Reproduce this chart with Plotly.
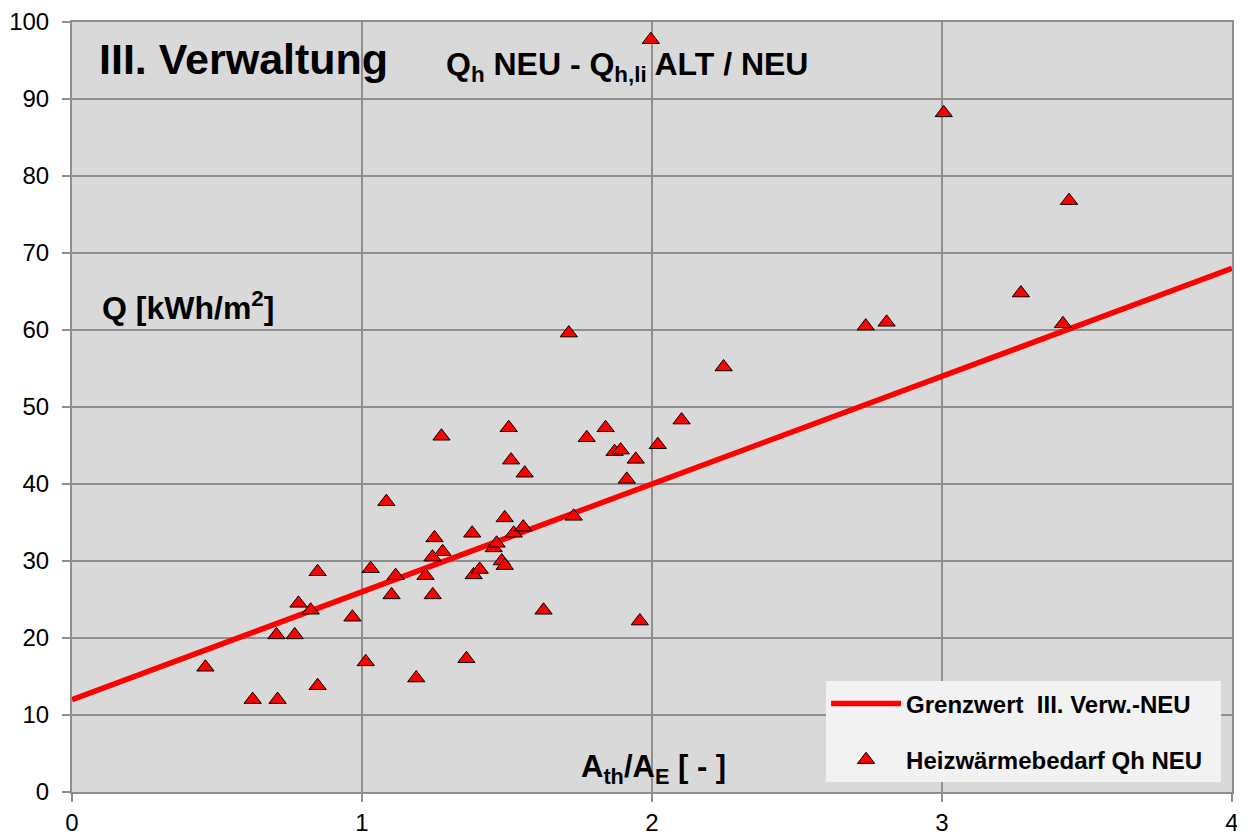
import plotly.graph_objects as go

# Measured data: A_th/A_E ratio vs heating demand Qh NEU
x_vals = [0.460, 0.623, 0.709, 0.705, 0.768, 0.781, 0.823, 0.847, 0.847, 0.967,
          1.013, 1.030, 1.084, 1.102, 1.116, 1.187, 1.219, 1.250, 1.243, 1.244,
          1.274, 1.278, 1.360, 1.380, 1.385, 1.406, 1.454, 1.464, 1.482, 1.492,
          1.492, 1.506, 1.514, 1.523, 1.556, 1.561, 1.626, 1.713, 1.730, 1.775,
          1.840, 1.871, 1.892, 1.913, 1.944, 1.958, 1.996, 2.020, 2.102, 2.247,
          2.737, 2.809, 3.006, 3.272, 3.417, 3.438]
y_vals = [16.2, 12.0, 12.0, 20.4, 20.4, 24.5, 23.6, 28.6, 13.8, 22.7,
          16.9, 29.0, 37.7, 25.6, 28.1, 14.8, 28.1, 33.0, 30.5, 25.6,
          46.2, 31.2, 17.3, 33.6, 28.2, 28.9, 31.7, 32.3, 30.0, 29.4,
          35.6, 47.3, 43.1, 33.6, 34.4, 41.4, 23.6, 59.6, 35.8, 46.0,
          47.3, 44.2, 44.4, 40.6, 43.2, 22.2, 97.7, 45.1, 48.3, 55.2,
          60.5, 61.0, 88.2, 64.8, 60.8, 76.8]

# Limit line Grenzwert III. Verw.-NEU
limit_x = [0, 4]
limit_y = [12, 68]

x_ticks = [0, 1, 2, 3, 4]
y_ticks = [0, 10, 20, 30, 40, 50, 60, 70, 80, 90, 100]

FONT = "Liberation Sans, Arial, sans-serif"
GRID = "#8f8f8f"

fig = go.Figure()
fig.add_trace(go.Scatter(
    x=limit_x, y=limit_y, mode="lines",
    line=dict(color="#ff0000", width=5.5),
    name="<b>Grenzwert  III. Verw.-NEU</b>&nbsp;&nbsp;",
    legendgroup="a",
))
fig.add_trace(go.Scatter(
    x=x_vals, y=y_vals, mode="markers",
    marker=dict(symbol="triangle-up", size=15, color="#ff0000",
                line=dict(color="#000000", width=1)),
    name="<b>Heizwärmebedarf Qh NEU</b>&nbsp;&nbsp;",
    legendgroup="b",
))

annotations = [
    dict(text="<b>III. Verwaltung</b>", x=0.085, y=95.2, xanchor="left", yanchor="middle",
         font=dict(size=43, color="black", family=FONT)),
    dict(text="<b>Q<sub>h</sub> NEU - Q<sub>h,li</sub> ALT / NEU</b>", x=1.283, y=94.2,
         xanchor="left", yanchor="middle", font=dict(size=32, color="black", family=FONT)),
    dict(text="<b>Q [kWh/m<sup>2</sup>]</b>", x=0.095, y=63.1, xanchor="left", yanchor="middle",
         font=dict(size=32, color="black", family=FONT)),
    dict(text="<b>A<sub>th</sub>/A<sub>E</sub> [ - ]</b>", x=1.747, y=3.0, xanchor="left",
         yanchor="middle", font=dict(size=31, color="black", family=FONT)),
]
for a in annotations:
    a.update(xref="x", yref="y", showarrow=False)

# The page body has an 8px default margin; the figure is sized so that its
# plot area lands at the reference position inside the 1245x837 window.
fig.update_layout(
    width=1237, height=829,
    margin=dict(l=64, r=13, t=14, b=45),
    paper_bgcolor="white",
    plot_bgcolor="#d9d9d9",
    font=dict(family=FONT, size=24, color="black"),
    annotations=annotations,
    showlegend=True,
    legend=dict(
        x=0.9906, y=0.0125, xanchor="right", yanchor="bottom",
        bgcolor="#f2f2f2", borderwidth=0,
        font=dict(size=24, color="black", family=FONT),
        traceorder="grouped", tracegroupgap=22,
        itemwidth=70,
    ),
)
fig.update_xaxes(
    range=[0, 4], tickvals=x_ticks, showgrid=True, gridcolor=GRID, gridwidth=2,
    zeroline=False, showline=True, linecolor=GRID, linewidth=2, mirror=True,
    ticks="outside", ticklen=8, tickcolor=GRID, tickwidth=2, automargin=False,
    tickfont=dict(size=24, color="black", family=FONT),
)
fig.update_yaxes(
    range=[0, 100], tickvals=y_ticks, showgrid=True, gridcolor=GRID, gridwidth=2,
    zeroline=False, showline=True, linecolor=GRID, linewidth=2, mirror=True,
    ticks="outside", ticklen=8, tickcolor=GRID, tickwidth=2, automargin=False,
    ticklabelstandoff=8,
    tickfont=dict(size=24, color="black", family=FONT),
)

fig.write_html("out.html")
